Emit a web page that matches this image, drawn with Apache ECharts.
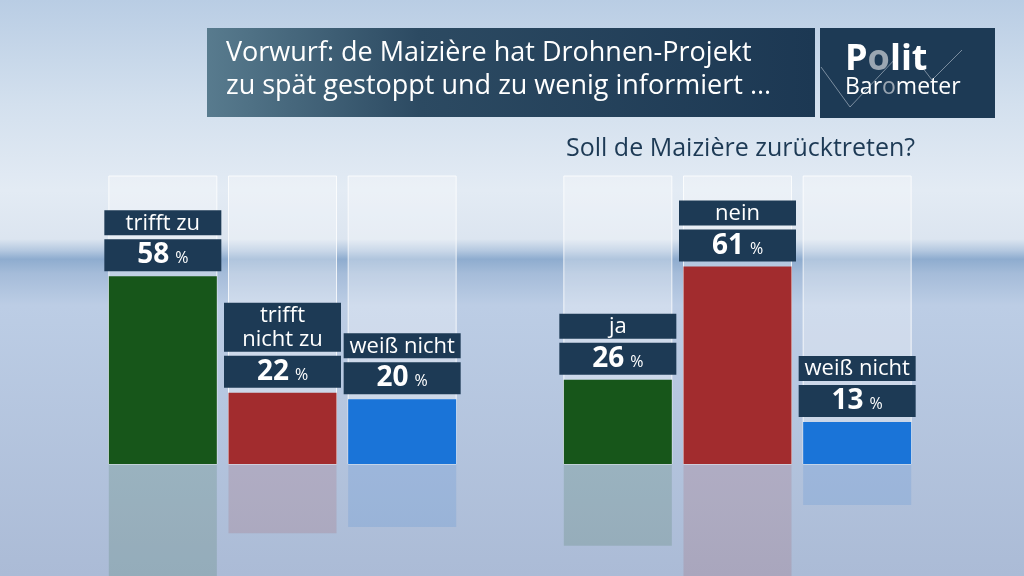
<!DOCTYPE html>
<html>
<head>
<meta charset="utf-8">
<script src="https://cdn.jsdelivr.net/npm/echarts@6/dist/echarts.min.js"></script>
<style>
html,body{margin:0;padding:0;width:1024px;height:576px;overflow:hidden;}
#c{width:1024px;height:576px;}
</style>
</head>
<body>
<div id="c"></div>
<script>
// ---- data ----
var titleLines = ['Vorwurf: de Maizière hat Drohnen-Projekt', 'zu spät gestoppt und zu wenig informiert ...'];
var subtitle = 'Soll de Maizière zurücktreten?';
var leftCats = ['trifft zu', 'trifft\nnicht zu', 'weiß nicht'];
var leftVals = [58, 22, 20];
var rightCats = ['ja', 'nein', 'weiß nicht'];
var rightVals = [26, 61, 13];
var barColors = ['#17561a', '#a22c2e', '#1a74d8'];
var reflColors = ['rgba(23,86,26,0.15)', 'rgba(162,44,46,0.14)', 'rgba(26,116,216,0.14)'];

var NAVY = '#1d3a55';
var FONT = 'Open Sans';
var YMAX = 89;
var REFL_MAX = 35.6; // reflection grid is 112px tall

function coloredData(vals, cols) {
  return vals.map(function (v, i) { return { value: v, itemStyle: { color: cols[i] } }; });
}

function mainSeries(idx, cats, vals) {
  return {
    type: 'bar', xAxisIndex: idx, yAxisIndex: idx,
    data: coloredData(vals, barColors),
    barWidth: 108, silent: true, z: 3,
    showBackground: true,
    backgroundStyle: { color: 'rgba(255,255,255,0.3)', borderColor: 'rgba(255,255,255,0.8)', borderWidth: 1 },
    label: {
      show: true, position: 'top', distance: 5,
      formatter: function (p) { return '{v|' + p.value + '}{p|%}'; },
      backgroundColor: NAVY, width: 109, height: 32, padding: [0, 4], align: 'center',
      rich: {
        v: { color: '#fff', fontFamily: FONT, fontWeight: 'bold', fontSize: 28, lineHeight: 32 },
        p: { color: '#fff', fontFamily: FONT, fontSize: 16, lineHeight: 32, padding: [7, 0, 0, 6] }
      }
    }
  };
}
function nameSeries(idx, cats, vals) {
  return {
    type: 'bar', xAxisIndex: idx, yAxisIndex: idx,
    data: vals, barWidth: 108, barGap: '-100%', silent: true, z: 4,
    itemStyle: { color: 'rgba(0,0,0,0)' },
    label: {
      show: true, position: 'top', distance: 41,
      formatter: function (p) { return cats[p.dataIndex]; },
      backgroundColor: NAVY, width: 109, padding: [1, 4, 0, 4], align: 'center',
      color: '#fff', fontFamily: FONT, fontSize: 22, lineHeight: 24
    }
  };
}
function reflSeries(idx, vals) {
  return {
    type: 'bar', xAxisIndex: idx, yAxisIndex: idx, clip: true,
    data: coloredData(vals, reflColors), barWidth: 108, silent: true, z: 1
  };
}

var grids = [
  { left: 103, top: 176, width: 359, height: 288 },
  { left: 558, top: 176, width: 359, height: 288 },
  { left: 103, top: 464, width: 359, bottom: 0 },
  { left: 558, top: 464, width: 359, bottom: 0 }
];
var xAxes = [leftCats, rightCats, leftCats, rightCats].map(function (c, i) {
  return { type: 'category', gridIndex: i, data: c, show: false };
});
var yAxes = [0, 1, 2, 3].map(function (i) {
  return { type: 'value', gridIndex: i, min: 0, max: i < 2 ? YMAX : REFL_MAX, inverse: i >= 2, show: false };
});

var chart = echarts.init(document.getElementById('c'), null, { renderer: 'canvas' });
chart.setOption({
  animation: false,
  backgroundColor: {
    type: 'linear', x: 0, y: 0, x2: 0, y2: 1,
    colorStops: [
      { offset: 0, color: '#b9cde4' },
      { offset: 0.18, color: '#d3e0ee' },
      { offset: 0.33, color: '#e3ebf4' },
      { offset: 0.415, color: '#dce5f0' },
      { offset: 0.435, color: '#b4c8e0' },
      { offset: 0.45, color: '#8eaccf' },
      { offset: 0.475, color: '#a5bcd9' },
      { offset: 0.53, color: '#bccde5' },
      { offset: 1, color: '#abbbd6' }
    ]
  },
  grid: grids,
  xAxis: xAxes,
  yAxis: yAxes,
  series: [
    reflSeries(2, leftVals), reflSeries(3, rightVals),
    mainSeries(0, leftCats, leftVals), nameSeries(0, leftCats, leftVals),
    mainSeries(1, rightCats, rightVals), nameSeries(1, rightCats, rightVals)
  ],
  graphic: [
    {
      type: 'rect', shape: { x: 207, y: 28, width: 608, height: 89 }, z: 10,
      style: { fill: { type: 'linear', x: 0, y: 0, x2: 1, y2: 0, colorStops: [
        { offset: 0, color: '#587b8e' }, { offset: 0.35, color: '#2c4a62' }, { offset: 1, color: '#1c3853' }] } }
    },
    { type: 'text', z: 11, style: { x: 226, y: 53, verticalAlign: 'middle', text: titleLines[0], fill: '#fff', font: '27px "' + FONT + '"' } },
    { type: 'text', z: 11, style: { x: 226, y: 86, verticalAlign: 'middle', text: titleLines[1], fill: '#fff', font: '27px "' + FONT + '"' } },
    { type: 'rect', shape: { x: 820, y: 28, width: 175, height: 90 }, z: 10, style: { fill: NAVY } },
    { type: 'polyline', z: 11, shape: { points: [[821, 67], [850, 107], [897, 57]] }, style: { stroke: 'rgba(200,210,220,0.55)', lineWidth: 1, fill: null } },
    { type: 'polyline', z: 11, shape: { points: [[915, 58], [932, 80], [962, 50]] }, style: { stroke: 'rgba(200,210,220,0.55)', lineWidth: 1, fill: null } },
    { type: 'text', left: 845, top: 42, z: 12, style: { rich: {
        a: { fill: '#fff', font: 'bold 36px "' + FONT + '"' }, o: { fill: '#9aa6b2', font: 'bold 36px "' + FONT + '"' } },
        text: '{a|P}{o|o}{a|lit}' } },
    { type: 'text', left: 845, top: 76, z: 12, style: { rich: {
        a: { fill: '#fff', font: '23px "' + FONT + '"' }, o: { fill: '#9aa6b2', font: '23px "' + FONT + '"' } },
        text: '{a|Bar}{o|o}{a|meter}' } },
    { type: 'text', z: 11, style: { x: 566, y: 149, verticalAlign: 'middle', text: subtitle, fill: NAVY, font: '25px "' + FONT + '"' } }
  ]
});
</script>
</body>
</html>
